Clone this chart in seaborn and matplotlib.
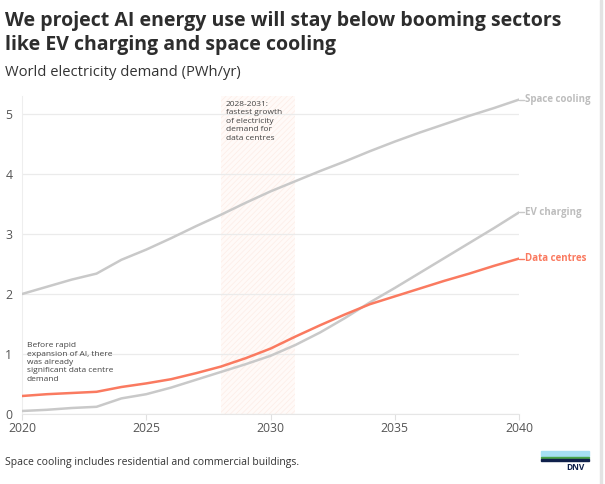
import numpy as np
import pandas as pd
import matplotlib
matplotlib.use('Agg')
import matplotlib.pyplot as plt
from matplotlib.patches import Rectangle
import seaborn as sns

# 数据
years = list(range(2020, 2041))
space_cooling = [2.00, 2.12, 2.24, 2.34, 2.57, 2.74, 2.93, 3.13, 3.32, 3.52, 3.71,
                 3.88, 4.05, 4.21, 4.38, 4.54, 4.69, 4.83, 4.97, 5.10, 5.24]
ev_charging = [0.05, 0.07, 0.10, 0.12, 0.26, 0.33, 0.44, 0.57, 0.70, 0.83, 0.97,
               1.15, 1.36, 1.60, 1.86, 2.10, 2.35, 2.60, 2.85, 3.10, 3.36]
data_centres = [0.30, 0.33, 0.35, 0.37, 0.45, 0.51, 0.58, 0.68, 0.79, 0.93, 1.09,
                1.29, 1.48, 1.66, 1.83, 1.96, 2.09, 2.22, 2.34, 2.47, 2.59]
series_names = ['Space cooling', 'EV charging', 'Data centres']
highlight_span = (2028, 2031)
y_ticks = [0, 1, 2, 3, 4, 5]
x_ticks = [2020, 2025, 2030, 2035, 2040]

grey = '#c9c9c9'
orange = '#fa7a60'
palette = {'Space cooling': grey, 'EV charging': grey, 'Data centres': orange}

df = pd.DataFrame({
    'year': years * 3,
    'value': space_cooling + ev_charging + data_centres,
    'series': [s for s in series_names for _ in years],
})

sns.set_style('white')
plt.rcParams['font.family'] = ['Open Sans', 'DejaVu Sans']
plt.rcParams['hatch.linewidth'] = 0.5

fig = plt.figure(figsize=(6.05, 4.84), dpi=100)
ax = fig.add_axes([22 / 605, 1 - 414 / 484, (519 - 22) / 605, (414 - 96) / 484])

# 高亮区间
ax.axvspan(*highlight_span, facecolor='#fffaf8', edgecolor='#fdece6',
           hatch='//////', linewidth=0, zorder=0)

sns.lineplot(data=df, x='year', y='value', hue='series', palette=palette,
             hue_order=series_names, linewidth=1.8, legend=False, ax=ax, zorder=3)

ax.set_xlim(2020, 2040)
ax.set_ylim(0, 5.3)
ax.set_xticks(x_ticks)
ax.set_yticks(y_ticks)
ax.set_xlabel('')
ax.set_ylabel('')
ax.grid(axis='y', color='#ebebeb', linewidth=0.9)
ax.grid(axis='x', visible=False)
for s in ['top', 'right']:
    ax.spines[s].set_visible(False)
ax.spines['left'].set_color('#eeeeee')
ax.spines['bottom'].set_color('#e6e6e6')
ax.tick_params(axis='x', colors='#e0e0e0', labelcolor='#555555', labelsize=8.8,
               length=4, width=0.8, bottom=True, pad=2)
ax.tick_params(axis='y', colors='#555555', labelsize=8.8, length=0, pad=7)

# 右侧标签
labels = {'Space cooling': space_cooling[-1], 'EV charging': ev_charging[-1],
          'Data centres': data_centres[-1]}
for name, val in labels.items():
    c = palette[name]
    ax.plot([2040, 2040.2], [val, val], color=c, linewidth=1, clip_on=False)
    ax.text(2040.25, val, name, color=c if name == 'Data centres' else '#bdbdbd',
            fontsize=7, fontweight='bold', va='center', ha='left', clip_on=False)

# 注释
ax.text(2028.2, 5.22, '2028-2031:\nfastest growth\nof electricity\ndemand for\ndata centres',
        fontsize=6, color='#444444', va='top', ha='left', linespacing=1.3)
ax.text(2020.2, 1.2, 'Before rapid\nexpansion of AI, there\nwas already\nsignificant data centre\ndemand',
        fontsize=6, color='#444444', va='top', ha='left', linespacing=1.3)

# 标题
fig.text(5 / 605, 1 - 33 / 484, 'We project AI energy use will stay below booming sectors\nlike EV charging and space cooling',
         fontsize=14, fontweight='bold', color='#2d2d2d', va='center', ha='left', linespacing=1.3)
fig.text(5 / 605, 1 - 73 / 484, 'World electricity demand (PWh/yr)',
         fontsize=10.6, color='#333333', va='center', ha='left')
fig.text(5 / 605, 1 - 463 / 484, 'Space cooling includes residential and commercial buildings.',
         fontsize=7.5, color='#333333', va='center', ha='left')

# DNV 标志
fig.patches.append(Rectangle((541 / 605, 1 - 456 / 484), 48 / 605, 5 / 484,
                             transform=fig.transFigure, color='#a6dff3', figure=fig))
fig.patches.append(Rectangle((541 / 605, 1 - 458 / 484), 48 / 605, 1.5 / 484,
                             transform=fig.transFigure, color='#4aa54a', figure=fig))
fig.patches.append(Rectangle((541 / 605, 1 - 460.5 / 484), 48 / 605, 1.5 / 484,
                             transform=fig.transFigure, color='#0f204b', figure=fig))
fig.text(575 / 605, 1 - 467 / 484, 'DNV', fontsize=6, fontweight='bold', color='#0f204b',
         va='center', ha='center')
# 右边框
fig.patches.append(Rectangle((600 / 605, 0), 2 / 605, 1, transform=fig.transFigure,
                             color='#e3e3e3', figure=fig))

fig.savefig('out.png', dpi=100)
plt.close(fig)
